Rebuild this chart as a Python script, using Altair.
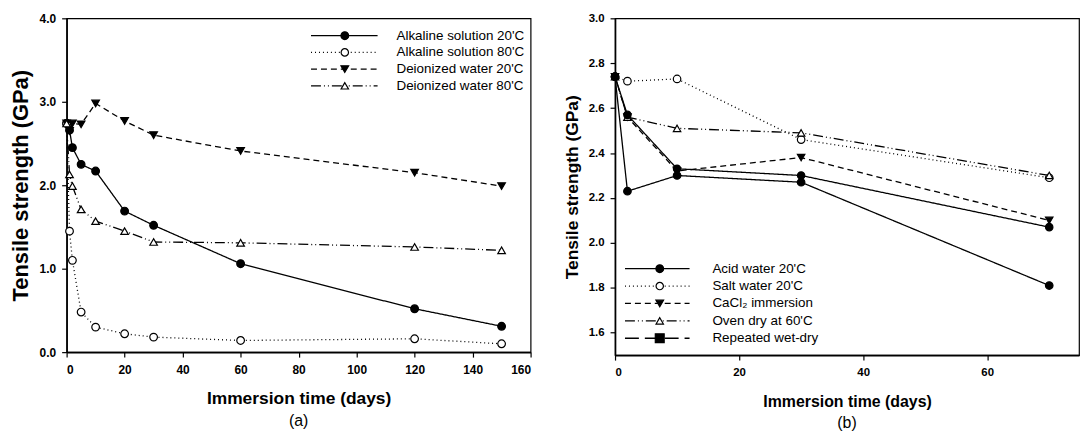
import altair as alt
import pandas as pd

FONT = "Liberation Sans"

# ---------------- Panel (a) data ----------------
a_days = [0, 1, 2, 5, 10, 20, 30, 60, 120, 150]
a_names = ["Alkaline solution 20'C", "Alkaline solution 80'C",
           "Deionized  water 20'C", "Deionized  water 80'C"]
a_alk20 = [2.74, 2.66, 2.45, 2.25, 2.17, 1.69, 1.52, 1.06, 0.52, 0.31]
a_alk80 = [2.74, 1.45, 1.10, 0.48, 0.30, 0.22, 0.18, 0.14, 0.16, 0.10]
a_di20 = [2.74, 2.65, 2.74, 2.73, 2.98, 2.77, 2.60, 2.41, 2.15, 1.99]
a_di80 = [2.74, 2.13, 1.99, 1.71, 1.57, 1.45, 1.32, 1.31, 1.26, 1.22]
a_values = [a_alk20, a_alk80, a_di20, a_di80]
a_xticks = [0, 20, 40, 60, 80, 100, 120, 140, 160]
a_yticks = [0.0, 1.0, 2.0, 3.0, 4.0]

# ---------------- Panel (b) data ----------------
b_days = [0, 2, 10, 30, 70]
b_names = ["Acid water 20'C", "Salt water 20'C", "CaCl\u2082 immersion",
           "Oven dry at 60'C", "Repeated wet-dry"]
b_acid = [2.74, 2.23, 2.30, 2.27, 1.81]
b_salt = [2.74, 2.72, 2.73, 2.46, 2.29]
b_cacl2 = [2.74, 2.56, 2.32, 2.38, 2.10]
b_oven = [2.74, 2.56, 2.51, 2.49, 2.30]
b_wetdry = [2.74, 2.57, 2.33, 2.30, 2.07]
b_values = [b_acid, b_salt, b_cacl2, b_oven, b_wetdry]
b_xticks = [0, 20, 40, 60]
b_yticks = [1.6, 1.8, 2.0, 2.2, 2.4, 2.6, 2.8, 3.0]

# styles for series (a) and (b)
a_dash = [[1, 0], [1, 3], [6, 4], [10, 3, 1, 3, 1, 3]]
a_shape = ["circle", "circle", "triangle-down", "triangle-up"]
a_fill = ["black", "white", "black", "white"]
a_size = [60, 55, 60, 55]
b_dash = [[1, 0], [1, 3], [6, 4], [10, 3, 1, 3, 1, 3], [14, 6]]
b_shape = ["circle", "circle", "triangle-down", "triangle-up", "square"]
b_fill = ["black", "white", "black", "white", "black"]
b_size = [60, 55, 60, 55, 80]


def panel(days, names, values, dashes, shapes, fills, sizes, xdom, xticks, ydom, yticks,
          w, h, tick_fs, xtitle_fs, ytitle_fs, ytitle_pad, leg, caption):
    rows = []
    for n, vals in zip(names, values):
        for d, v in zip(days, vals):
            rows.append({"s": n, "day": d, "v": v})
    df = pd.DataFrame(rows)

    x = alt.X("day:Q",
              scale=alt.Scale(domain=xdom, nice=False, zero=False),
              axis=alt.Axis(values=xticks, format="d", title="Immersion time (days)",
                            grid=False, tickSize=5, labelPadding=7, titlePadding=15,
                            labelFont=FONT, labelFontSize=tick_fs, labelFontWeight="bold",
                            titleFont=FONT, titleFontSize=xtitle_fs, titleFontWeight="bold",
                            domainColor="black", tickColor="black", labelColor="black",
                            titleColor="black", domainWidth=1.6, tickWidth=1.2))
    y = alt.Y("v:Q",
              scale=alt.Scale(domain=ydom, nice=False, zero=False),
              axis=alt.Axis(values=yticks, format=".1f", title="Tensile strength (GPa)",
                            grid=False, tickSize=5, labelPadding=6, titlePadding=ytitle_pad,
                            labelFont=FONT, labelFontSize=tick_fs, labelFontWeight="bold",
                            titleFont=FONT, titleFontSize=ytitle_fs, titleFontWeight="bold",
                            domainColor="black", tickColor="black", labelColor="black",
                            titleColor="black", domainWidth=1.6, tickWidth=1.2))

    base = alt.Chart(df)
    lines = base.mark_line(color="black", strokeWidth=1.3).encode(
        x=x, y=y,
        strokeDash=alt.StrokeDash("s:N", scale=alt.Scale(domain=names, range=dashes), legend=None),
        detail="s:N",
    )
    points = base.mark_point(filled=True, opacity=1, stroke="black",
                             strokeWidth=1.2).encode(
        x=x, y=y,
        shape=alt.Shape("s:N", scale=alt.Scale(domain=names, range=shapes), legend=None),
        fill=alt.Fill("s:N", scale=alt.Scale(domain=names, range=fills), legend=None),
        size=alt.Size("s:N", scale=alt.Scale(domain=names, range=sizes), legend=None),
    )

    layers = [lines, points]
    lx0, lx1, lsym, ltext, ly0, ldy = leg
    dummy = pd.DataFrame({"k": [0]})
    for i, n in enumerate(names):
        ly = ly0 + i * ldy
        layers.append(alt.Chart(dummy).mark_rule(color="black", strokeWidth=1.3,
                                                 strokeDash=dashes[i]).encode(
            x=alt.value(lx0), x2=alt.value(lx1), y=alt.value(ly)))
        layers.append(alt.Chart(dummy).mark_point(filled=True, size=sizes[i], opacity=1,
                                                  stroke="black", strokeWidth=1.2,
                                                  shape=shapes[i], fill=fills[i]).encode(
            x=alt.value(lsym), y=alt.value(ly)))
        layers.append(alt.Chart(dummy).mark_text(align="left", baseline="middle",
                                                 font=FONT, fontSize=13.5,
                                                 color="black", text=n).encode(
            x=alt.value(ltext), y=alt.value(ly)))

    return alt.layer(*layers).properties(
        width=w, height=h,
        title=alt.TitleParams(caption, orient="bottom", anchor="middle", frame="group",
                              font=FONT, fontSize=16, fontWeight="normal", color="black",
                              offset=6),
    )


pa = panel(a_days, a_names, a_values, a_dash, a_shape, a_fill, a_size,
           [0, 160], a_xticks, [0, 4], a_yticks, 467, 336, 12, 17.5, 22, 7,
           (246, 313, 280, 332, 17.5, 16.8), "(a)")
pb = panel(b_days, b_names, b_values, b_dash, b_shape, b_fill, b_size,
           [0, 74.8], b_xticks, [1.5, 3.0], b_yticks, 467, 339, 11.5, 16, 17.5, 7,
           (10, 75, 45, 98, 252, 17.5), "(b)")

chart = alt.hconcat(pa, pb, spacing=30).properties(
    padding={"left": 0, "top": 2, "right": 0, "bottom": 0}
).configure_view(stroke="black", strokeWidth=1.2)

chart.save("out.html", embed_options={"renderer": "svg", "actions": False})
